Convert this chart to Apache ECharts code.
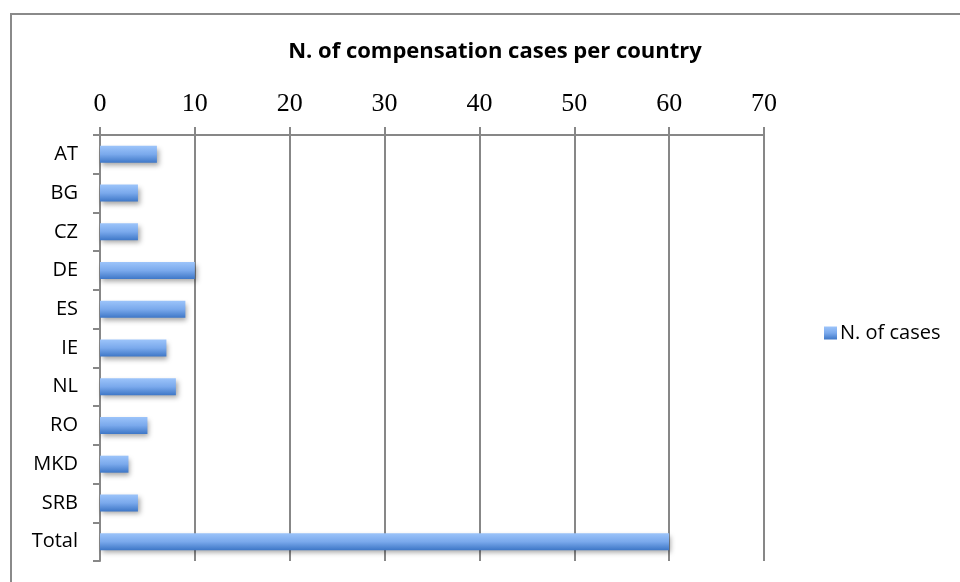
<!DOCTYPE html>
<html>
<head>
<meta charset="utf-8">
<script src="https://cdn.jsdelivr.net/npm/echarts@6/dist/echarts.min.js"></script>
<style>
html,body{margin:0;padding:0;background:#fff;}
#chart{width:960px;height:582px;}
</style>
</head>
<body>
<div id="chart"></div>
<script>
var categories = ['AT','BG','CZ','DE','ES','IE','NL','RO','MKD','SRB','Total'];
var caseCounts = [6,4,4,10,9,7,8,5,3,4,60];
var seriesName = 'N. of cases';
var chartTitle = 'N. of compensation cases per country';
var axisMin = 0, axisMax = 70, axisStep = 10;

var chart = echarts.init(document.getElementById('chart'));
var barGradient = new echarts.graphic.LinearGradient(0,0,0,1,[
  {offset:0,color:'#9cc4fa'},
  {offset:0.5,color:'#7aa9ec'},
  {offset:1,color:'#3e77c7'}
]);
chart.setOption({
  backgroundColor:'#ffffff',
  animation:false,
  title:{
    text:chartTitle,
    left:490, textAlign:'center', top:36,
    textStyle:{fontFamily:'Open Sans',fontWeight:'bold',fontSize:22,color:'#000'}
  },
  graphic:[{
    type:'rect',
    shape:{x:11,y:14,width:970,height:600},
    style:{fill:'none',stroke:'#8a8a8a',lineWidth:2},
    silent:true
  }],
  legend:{
    left:819, top:318,
    itemWidth:13, itemHeight:13, itemGap:6,
    icon:'rect',
    textStyle:{fontFamily:'Open Sans',fontSize:20,color:'#000',padding:[0,0,0,-2]},
    data:[{name:seriesName,itemStyle:{color:barGradient}}]
  },
  grid:{left:100,right:196,top:135,bottom:21,containLabel:false},
  xAxis:{
    type:'value', position:'top',
    min:axisMin, max:axisMax, interval:axisStep,
    axisLine:{show:true,lineStyle:{color:'#878787',width:2}},
    axisTick:{show:true,length:8,lineStyle:{color:'#878787',width:2}},
    splitLine:{show:true,lineStyle:{color:'#878787',width:2}},
    axisLabel:{fontFamily:'Liberation Serif',fontSize:26,color:'#000',margin:18}
  },
  yAxis:{
    type:'category', inverse:true, data:categories,
    axisLine:{show:true,lineStyle:{color:'#878787',width:2}},
    axisTick:{show:true,length:7,lineStyle:{color:'#878787',width:2}},
    axisLabel:{fontFamily:'Open Sans',fontSize:20,color:'#000',margin:22}
  },
  series:[{
    name:seriesName, type:'bar', data:caseCounts, barWidth:17,
    itemStyle:{color:barGradient,shadowColor:'rgba(0,0,0,0.35)',shadowBlur:5,shadowOffsetX:2,shadowOffsetY:3}
  }]
});
</script>
</body>
</html>
